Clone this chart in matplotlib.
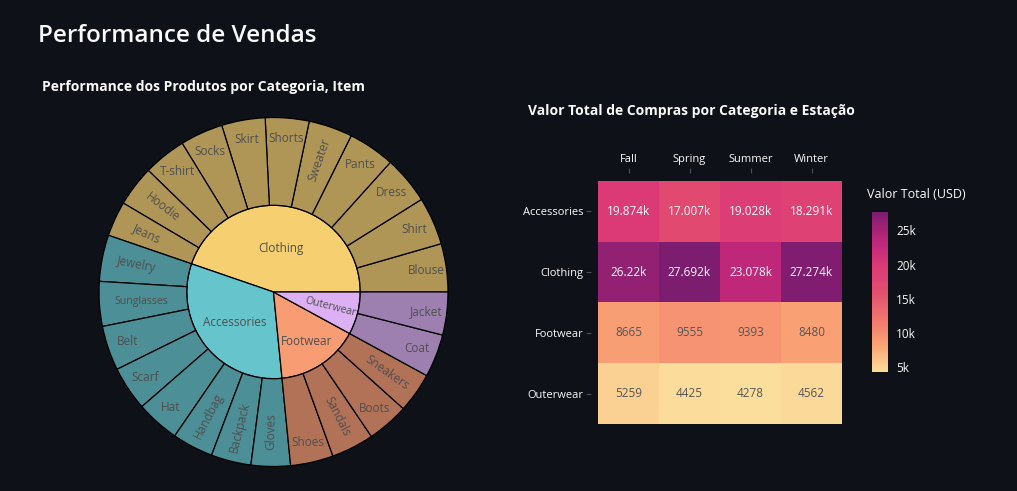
import numpy as np
import matplotlib.pyplot as plt
from matplotlib.colors import LinearSegmentedColormap, to_rgb

plt.rcParams['font.family'] = ['Open Sans', 'DejaVu Sans']

BG = '#0e1117'
FG = '#fafafa'

# sunburst data (sum of purchase amount, USD)
categories = ['Clothing', 'Accessories', 'Footwear', 'Outerwear']
cat_colors = ['#f6cf71', '#66c5cc', '#f89c74', '#dcb0f2']
items = {
    'Clothing': ['Blouse', 'Shirt', 'Dress', 'Pants', 'Sweater', 'Shorts', 'Skirt',
                 'Socks', 'T-shirt', 'Hoodie', 'Jeans'],
    'Accessories': ['Jewelry', 'Sunglasses', 'Belt', 'Scarf', 'Hat', 'Handbag',
                    'Backpack', 'Gloves'],
    'Footwear': ['Shoes', 'Sandals', 'Boots', 'Sneakers'],
    'Outerwear': ['Coat', 'Jacket'],
}
item_values = {
    'Clothing': [10410, 10332, 10320, 10090, 9462, 9433, 9402, 9252, 9248, 8767, 7548],
    'Accessories': [10010, 9649, 9635, 9561, 9375, 8857, 8636, 8477],
    'Footwear': [9240, 9200, 9018, 8635],
    'Outerwear': [9275, 9249],
}
# labels drawn along the radius instead of horizontally
radial_labels = ['Sweater', 'Hoodie', 'Jeans', 'Jewelry', 'Handbag', 'Backpack',
                 'Gloves', 'Sandals', 'Sneakers', 'Outerwear']
# labels shrunk to fit their slice
small_labels = ['Sunglasses', 'Outerwear']

# heatmap data
seasons = ['Fall', 'Spring', 'Summer', 'Winter']
heat_rows = ['Accessories', 'Clothing', 'Footwear', 'Outerwear']
heat_values = np.array([
    [19874, 17007, 19028, 18291],
    [26220, 27692, 23078, 27274],
    [8665, 9555, 9393, 8480],
    [5259, 4425, 4278, 4562],
])
sunsetdark = ['#fcde9c', '#faa476', '#f0746e', '#e34f6f', '#dc3977', '#b9257a', '#7c1d6f']


def leaf_color(c, alpha=0.7):
    r = np.array(to_rgb(c)) * alpha + np.array(to_rgb(BG)) * (1 - alpha)
    return tuple(r)


def fmt_val(v):
    if v >= 10000:
        return f"{v / 1000:.3f}".rstrip('0').rstrip('.') + 'k'
    return str(v)


W, H = 1017, 491
fig = plt.figure(figsize=(W / 100, H / 100), dpi=100, facecolor=BG)

fig.text(38 / W, 1 - 36 / H, 'Performance de Vendas', color=FG, fontsize=17.5,
         fontweight='semibold', va='center', ha='left')

# ---- sunburst ----
cx, cy, R = 273.5, 292, 175
ax = fig.add_axes([(cx - R) / W, 1 - (cy + R) / H, 2 * R / W, 2 * R / H])
ax.set_facecolor(BG)
fig.text(42 / W, 1 - 87 / H, 'Performance dos Produtos por Categoria, Item', color=FG,
         fontsize=10, fontweight='bold', va='center', ha='left')

r_in = 0.497
cat_totals = [sum(item_values[c]) for c in categories]
outer_vals, outer_cols, outer_names = [], [], []
for c, col in zip(categories, cat_colors):
    outer_vals += item_values[c]
    outer_cols += [leaf_color(col)] * len(item_values[c])
    outer_names += items[c]

wp = dict(edgecolor='black', linewidth=0.9)
ax.pie(cat_totals, colors=cat_colors, radius=r_in, startangle=0, counterclock=True,
       wedgeprops=wp)
ax.pie(outer_vals, colors=outer_cols, radius=1, startangle=0, counterclock=True,
       wedgeprops=dict(width=1 - r_in, **wp))
ax.set_xlim(-1.003, 1.003)
ax.set_ylim(-1.003, 1.003)
ax.set_aspect('equal')
ax.axis('off')

txt_col = '#4f4f4f'
total = sum(cat_totals)


def put_label(name, mid, r, size):
    a = np.deg2rad(mid)
    rot = 0
    if name in radial_labels:
        rot = mid - 180 if 90 < mid < 270 else (mid if mid <= 90 else mid - 360)
    if name in small_labels:
        size = 7.6
    ax.text(r * np.cos(a), r * np.sin(a), name, rotation=rot, rotation_mode='anchor',
            ha='center', va='center', color=txt_col, fontsize=size)


start = 0
for c, v in zip(categories, cat_totals):
    span = v / total * 360
    mid = start + span / 2
    rr = 0.25 if c == 'Clothing' else (0.28 if c == 'Accessories' else 0.34)
    put_label(c, mid, rr, 8.5)
    start += span

start = 0
for n, v in zip(outer_names, outer_vals):
    span = v / total * 360
    mid = start + span / 2
    rr = 0.8 if n in radial_labels else 0.885
    if n in small_labels:
        rr = 0.76
    put_label(n, mid, rr, 8.5)
    start += span

# ---- heatmap ----
hx0, hx1, hy0, hy1 = 598, 842, 181, 424
hax = fig.add_axes([hx0 / W, 1 - hy1 / H, (hx1 - hx0) / W, (hy1 - hy0) / H])
cmap = LinearSegmentedColormap.from_list('sunsetdark', sunsetdark)
vmin, vmax = heat_values.min(), heat_values.max()
im = hax.imshow(heat_values, cmap=cmap, vmin=vmin, vmax=vmax, aspect='auto')
hax.set_facecolor(BG)
for s in hax.spines.values():
    s.set_visible(False)
hax.spines['left'].set_position(('outward', 5))
hax.spines['top'].set_position(('outward', 6))
hax.xaxis.tick_top()
hax.set_xticks(range(len(seasons)))
hax.set_xticklabels(seasons)
hax.set_yticks(range(len(heat_rows)))
hax.set_yticklabels(heat_rows)
hax.tick_params(colors='#4a4f57', labelcolor=FG, labelsize=8, length=3.6, width=0.8)
hax.tick_params(axis='y', pad=2)
hax.tick_params(axis='x', pad=2)
for i in range(heat_values.shape[0]):
    for j in range(heat_values.shape[1]):
        v = heat_values[i, j]
        col = FG if v > 15000 else '#555555'
        hax.text(j, i, fmt_val(v), ha='center', va='center', color=col, fontsize=8.5)
fig.text(528 / W, 1 - 111 / H, 'Valor Total de Compras por Categoria e Estação', color=FG,
         fontsize=10, fontweight='bold', va='center', ha='left')

# colorbar
cax = fig.add_axes([872 / W, 1 - 372 / H, 16 / W, 160 / H])
cb = fig.colorbar(im, cax=cax)
cb.outline.set_visible(False)
cb.set_ticks([5000, 10000, 15000, 20000, 25000])
cb.set_ticklabels(['5k', '10k', '15k', '20k', '25k'])
cax.tick_params(colors=FG, labelsize=8.5, length=0, pad=6)
fig.text(867 / W, 1 - 195 / H, 'Valor Total (USD)', color=FG, fontsize=9,
         va='center', ha='left')

fig.savefig('out.png', dpi=100, facecolor=BG)
